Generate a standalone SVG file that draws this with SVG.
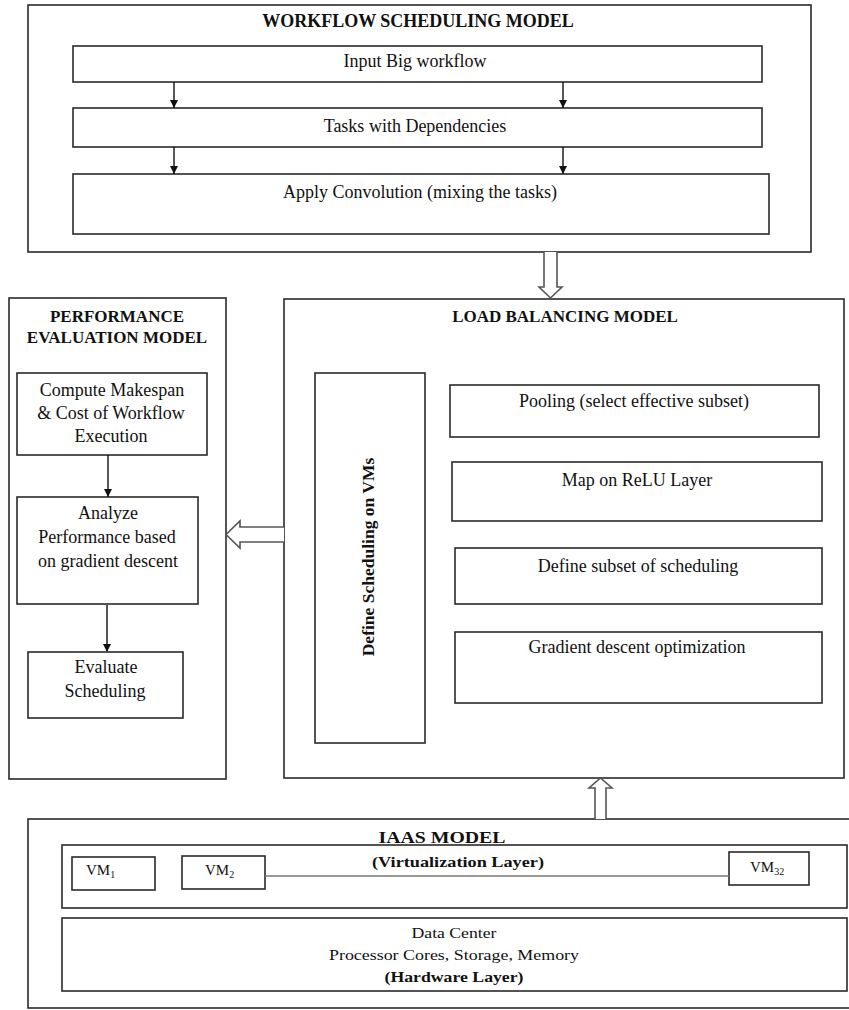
<svg xmlns="http://www.w3.org/2000/svg" width="849" height="1010" viewBox="0 0 849 1010">
<style>
.box{fill:#fff;stroke:#2a2a2a;stroke-width:1.6}
.t{font-family:"Liberation Serif","Times New Roman",serif;font-size:18px;fill:#111;text-anchor:middle}
.b{font-weight:bold;font-size:17px}
.s{font-size:15px}
.con{stroke:#111;stroke-width:1.4;fill:none}
.hollow{fill:#fff;stroke:#555;stroke-width:1.6}
</style>
<defs>
<marker id="ah" markerWidth="8" markerHeight="8" refX="8" refY="4" orient="auto" markerUnits="userSpaceOnUse">
<path d="M0,0 L8,4 L0,8 Z" fill="#111"/>
</marker>
</defs>
<rect width="849" height="1010" fill="#fff"/>

<g id="workflow-model">
<rect class="box" x="28" y="5" width="783" height="247"/>
<text class="t b" x="418" y="27" font-size="18" style="font-size:18px">WORKFLOW SCHEDULING MODEL</text>
</g>
<g id="input-big-workflow">
<rect class="box" x="73" y="46" width="689" height="36"/>
<text class="t" x="415" y="67">Input Big workflow</text>
</g>
<g id="tasks-dependencies">
<rect class="box" x="73" y="108" width="689" height="39"/>
<text class="t" x="415" y="132">Tasks with Dependencies</text>
</g>
<g id="apply-convolution">
<rect class="box" x="73" y="174" width="696" height="60"/>
<text class="t" x="420" y="198">Apply Convolution (mixing the tasks)</text>
</g>

<g id="performance-model">
<rect class="box" x="9" y="298" width="217" height="481"/>
<text class="t b" x="117" y="322">PERFORMANCE</text>
<text class="t b" x="117" y="343">EVALUATION MODEL</text>
</g>
<g id="compute-makespan">
<rect class="box" x="17" y="373" width="190" height="82"/>
<text class="t" x="112" y="396">Compute Makespan</text>
<text class="t" x="111" y="419">&amp; Cost of Workflow</text>
<text class="t" x="111" y="442">Execution</text>
</g>
<g id="analyze-performance">
<rect class="box" x="17" y="497" width="181" height="107"/>
<text class="t" x="108" y="519">Analyze</text>
<text class="t" x="107" y="543">Performance based</text>
<text class="t" x="108" y="567">on gradient descent</text>
</g>
<g id="evaluate-scheduling">
<rect class="box" x="28" y="652" width="155" height="66"/>
<text class="t" x="106" y="673">Evaluate</text>
<text class="t" x="105" y="697">Scheduling</text>
</g>

<g id="load-balancing-model">
<rect class="box" x="284" y="299" width="560" height="479"/>
<text class="t b" x="565" y="322">LOAD BALANCING MODEL</text>
</g>
<g id="define-scheduling-vms">
<rect class="box" x="315" y="373" width="110" height="370"/>
<text class="t b" transform="translate(374,557) rotate(-90)" style="font-size:17.5px">Define Scheduling on VMs</text>
</g>
<g id="pooling">
<rect class="box" x="450" y="385" width="369" height="52"/>
<text class="t" x="634" y="407">Pooling (select effective subset)</text>
</g>
<g id="map-relu">
<rect class="box" x="452" y="462" width="370" height="59"/>
<text class="t" x="637" y="486">Map on ReLU Layer</text>
</g>
<g id="define-subset">
<rect class="box" x="455" y="548" width="367" height="56"/>
<text class="t" x="638" y="572">Define subset of scheduling</text>
</g>
<g id="gradient-descent">
<rect class="box" x="455" y="632" width="367" height="71"/>
<text class="t" x="637" y="653">Gradient descent optimization</text>
</g>

<g id="iaas-model">
<rect class="box" x="28" y="819" width="826" height="189"/>
<text class="t b" x="442" y="843" textLength="127" lengthAdjust="spacingAndGlyphs">IAAS MODEL</text>
</g>
<g id="virtualization-layer">
<rect class="box" x="62" y="845" width="785" height="63"/>
<text class="t b s" x="458" y="867" textLength="172" lengthAdjust="spacingAndGlyphs">(Virtualization Layer)</text>
</g>
<g id="vm1">
<rect class="box" x="72" y="857" width="83" height="33"/>
<text class="t s" x="86" y="875" style="text-anchor:start">VM<tspan font-size="10" dy="3">1</tspan></text>
</g>
<g id="vm2">
<rect class="box" x="182" y="856" width="83" height="33"/>
<text class="t s" x="205" y="875" style="text-anchor:start">VM<tspan font-size="10" dy="3">2</tspan></text>
</g>
<g id="vm32">
<rect class="box" x="729" y="852" width="80" height="33"/>
<text class="t s" x="750" y="872" style="text-anchor:start">VM<tspan font-size="10" dy="3">32</tspan></text>
</g>
<g id="data-center">
<rect class="box" x="62" y="918" width="785" height="73"/>
<text class="t s" x="454" y="938" textLength="85" lengthAdjust="spacingAndGlyphs">Data Center</text>
<text class="t s" x="454" y="960" textLength="250" lengthAdjust="spacingAndGlyphs">Processor Cores, Storage, Memory</text>
<text class="t b s" x="454" y="982" textLength="139" lengthAdjust="spacingAndGlyphs">(Hardware Layer)</text>
</g>

<g id="connectors">
<line class="con" x1="174" y1="82" x2="174" y2="108" marker-end="url(#ah)"/>
<line class="con" x1="563" y1="82" x2="563" y2="108" marker-end="url(#ah)"/>
<line class="con" x1="174" y1="147" x2="174" y2="174" marker-end="url(#ah)"/>
<line class="con" x1="563" y1="147" x2="563" y2="174" marker-end="url(#ah)"/>
<line class="con" x1="108" y1="455" x2="108" y2="497" marker-end="url(#ah)"/>
<line class="con" x1="107" y1="604" x2="107" y2="652" marker-end="url(#ah)" style="stroke:#555;stroke-width:2"/>
<polyline class="hollow" points="544,252 544,287 539,287 550.5,298 562,287 557,287 557,252"/>
<polyline class="hollow" points="284,527 240,527 240,521 226,534.5 240,548 240,542 284,542"/>
<polyline class="hollow" points="595,819 595,788 589,788 600.5,778 612,788 606,788 606,819"/>
<line x1="265" y1="876" x2="729" y2="876" stroke="#777" stroke-width="1.4"/>
</g>
</svg>
